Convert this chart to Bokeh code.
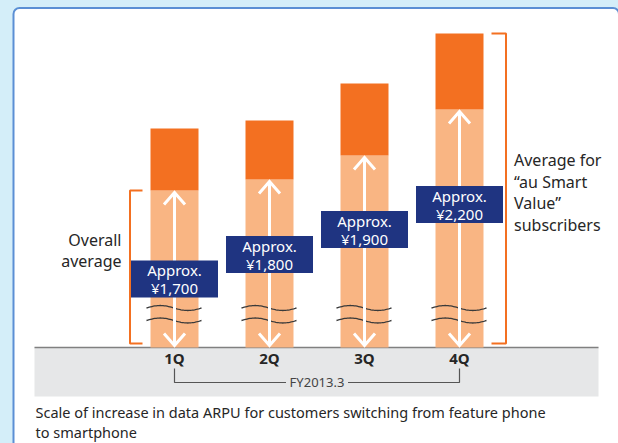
import math
from bokeh.plotting import figure
from bokeh.models import Range1d
from bokeh.core.properties import value
from bokeh.embed import file_html
from bokeh.resources import INLINE
from bokeh.core.templates import get_env

# ---- data ----
quarters = ["1Q", "2Q", "3Q", "4Q"]
approx_labels = ["¥1,700", "¥1,800", "¥1,900", "¥2,200"]
overall_avg_bar = [157, 168, 192, 238]       # schematic height of overall average (broken scale)
smart_value_bar = [219, 227, 264, 314]       # schematic height of "au Smart Value" subscribers
label_level = [68.5, 93, 118, 143]           # vertical placement of the value boxes
period_label = "FY2013.3"
caption_lines = ["Scale of increase in data ARPU for customers switching from feature phone",
                 "to smartphone"]

# ---- layout constants ----
PX = 95.0            # pixels per category step
X0 = 174.0           # screen x of first category centre
BASE = 347.0         # screen y of baseline
W, H = 618, 443
FONT = "Noto Sans"

DARK = "#f37021"
LIGHT = "#f9b583"
NAVY = "#1f3481"
TEXT = "#262626"

def sx(px):  # screen x -> data x
    return (px - X0) / PX

def sy(py):  # screen y -> data y
    return BASE - py

p = figure(width=W, height=H, output_backend="svg", toolbar_location=None,
           x_range=Range1d(sx(0), sx(W)), y_range=Range1d(sy(H), sy(0)),
           min_border=0, outline_line_color=None,
           background_fill_color="#d4eef9", border_fill_color="#d4eef9")
p.axis.visible = False
p.grid.visible = False

# panel
p.quad(left=[sx(13)], right=[sx(618.5)], top=[sy(7.5)], bottom=[sy(470)],
       fill_color="white", line_color="#5b8fd4", line_width=2, border_radius=6)

# grey band
p.quad(left=[sx(34)], right=[sx(598)], top=[0], bottom=[sy(396)],
       fill_color="#e6e7e8", line_color=None)
p.segment(x0=[sx(34)], x1=[sx(598)], y0=[0], y1=[0], line_color="#808080", line_width=1.5)

xs = list(range(len(quarters)))
bw = 48 / PX

# bars
p.vbar(x=xs, width=bw, bottom=0, top=overall_avg_bar, fill_color=LIGHT, line_color=None)
p.vbar(x=xs, width=bw, bottom=overall_avg_bar, top=smart_value_bar, fill_color=DARK, line_color=None)

# break marks
wx, wy = [], []
for i in xs:
    left = i - bw / 2 - 4 / PX
    right = i + bw / 2 + 3 / PX
    n = 40
    for c in (sy(307.5), sy(320)):
        wx.append([left + (right - left) * k / n for k in range(n + 1)])
        wy.append([c + 2.5 * math.sin(2 * math.pi * k / n) for k in range(n + 1)])
p.multi_line(xs=wx, ys=wy, line_color="#3a3a3a", line_width=1.3)

# arrows
ax_, ay_ = [], []
hw = 10.5 / PX
for i, top in zip(xs, overall_avg_bar):
    tip_up = top - 2
    tip_dn = 2
    ax_ += [[i, i], [i - hw, i, i + hw], [i - hw, i, i + hw]]
    ay_ += [[tip_dn, tip_up], [tip_up - 12, tip_up, tip_up - 12], [tip_dn + 12, tip_dn, tip_dn + 12]]
p.multi_line(xs=ax_, ys=ay_, line_color="white", line_width=3, line_join="miter")

# value boxes
p.rect(x=xs, y=label_level, width=87, height=37, width_units="screen", height_units="screen",
       fill_color=NAVY, line_color=None)
p.text(x=xs, y=[v + 9 for v in label_level], text=["Approx."] * 4, text_color="white",
       text_font=value(FONT), text_font_size="15px", text_align="center", text_baseline="middle")
p.text(x=xs, y=[v - 9 for v in label_level], text=approx_labels, text_color="white",
       text_font=value(FONT), text_font_size="15px", text_align="center", text_baseline="middle")

# brackets
lb_x = -0.5 + 3 / PX
p.multi_line(xs=[[sx(142), lb_x, lb_x, sx(142)]],
             ys=[[overall_avg_bar[0], overall_avg_bar[0], 4, 4]],
             line_color=DARK, line_width=2)
rb_x = 3 + 0.5 - 1 / PX
p.multi_line(xs=[[3 + bw / 2 + 8 / PX, rb_x, rb_x, 3 + bw / 2 + 8 / PX]],
             ys=[[smart_value_bar[3], smart_value_bar[3], 4, 4]],
             line_color=DARK, line_width=2)

p.text(x=[sx(121)] * 2, y=[sy(239), sy(260)], text=["Overall", "average"], text_color=TEXT,
       text_font=value(FONT), text_font_size="16px", text_align="right", text_baseline="middle")
p.text(x=[sx(513.5)] * 4, y=[sy(159.5), sy(181), sy(202.7), sy(224)],
       text=["Average for", "\u201cau Smart", "Value\u201d", "subscribers"], text_color=TEXT,
       text_font=value(FONT), text_font_size="16px", text_align="left", text_baseline="middle")

# category labels
p.text(x=xs, y=[sy(357)] * 4, text=quarters, text_color=TEXT, text_font=value(FONT),
       text_font_size="15px", text_font_style="bold", text_align="center", text_baseline="middle")

# period bracket
mid = (xs[0] + xs[-1]) / 2
gap = 31 / PX
p.multi_line(xs=[[xs[0], xs[0], mid - gap], [mid + gap, xs[-1], xs[-1]]],
             ys=[[sy(368), sy(382), sy(382)], [sy(382), sy(382), sy(368)]],
             line_color="#555555", line_width=1.2)
p.text(x=[mid], y=[sy(381.5)], text=[period_label], text_color="#444444", text_font=value(FONT),
       text_font_size="13px", text_align="center", text_baseline="middle")

# caption
p.text(x=[sx(35)] * 2, y=[sy(411.5), sy(431.5)], text=caption_lines, text_color=TEXT,
       text_font=value(FONT), text_font_size="14.5px", text_align="left", text_baseline="middle")

template = get_env().from_string(
    '{% extends "file.html" %}{% block preamble %}<style>html,body{margin:0 !important;padding:0;'
    'background-color:#d4eef9;overflow:hidden;}</style>{% endblock %}'
)
open("out.html", "w").write(file_html(p, INLINE, template=template))
